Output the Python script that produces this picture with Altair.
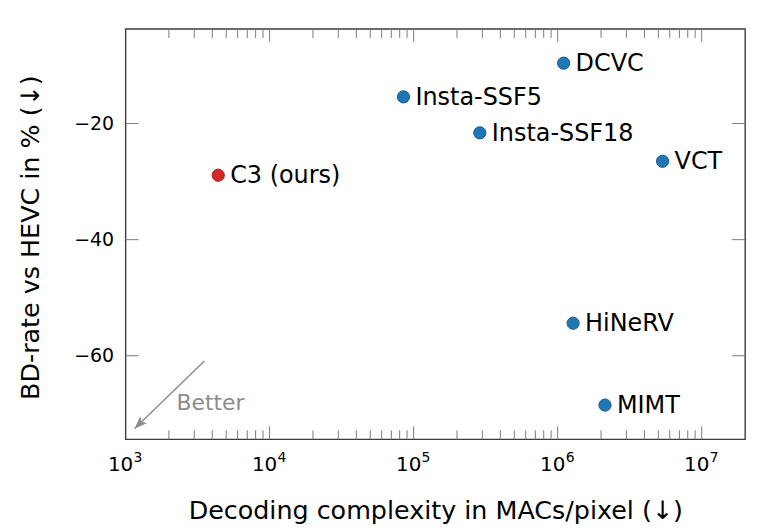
import altair as alt
import pandas as pd

# ---- data ----
methods = ["C3 (ours)", "Insta-SSF5", "Insta-SSF18", "DCVC", "VCT", "HiNeRV", "MIMT"]
macs = [4400, 85000, 288000, 1.1e6, 5.35e6, 1.28e6, 2.13e6]
bd_rate = [-28.9, -15.4, -21.6, -9.6, -26.5, -54.4, -68.5]
is_ours = [True, False, False, False, False, False, False]

x_major = [1e4, 1e5, 1e6, 1e7]
x_labels_at = [1e3, 1e4, 1e5, 1e6, 1e7]
x_label_exp = ["3", "4", "5", "6", "7"]
x_minor = [k * 10 ** e for e in range(3, 7) for k in range(2, 10)]
y_major = [-20, -40, -60]

arrow_x = [3525, 1154]
arrow_y = [-60.9, -72.6]
better_x = [2254]
better_y = [-68.2]

W, H = 622, 412
FONT = "DejaVu Sans"
XDOM = [1e3, 2e7]
YDOM = [-74.4, -3.7]

df = pd.DataFrame({"method": methods, "macs": macs, "bd": bd_rate, "ours": is_ours})

xs = alt.Scale(type="log", domain=XDOM, nice=False)
ys = alt.Scale(domain=YDOM, nice=False, zero=False)

x_axis = alt.Axis(
    values=x_labels_at, grid=False, ticks=False, tickSize=0, domain=False, labels=False,
    title="Decoding complexity in MACs/pixel (↓)", titleFont=FONT, titleFontSize=25.5,
    titleFontWeight="normal", titleColor="#000", titleBaseline="alphabetic", titleY=80,
)
y_axis = alt.Axis(
    values=y_major, grid=False, ticks=False, tickSize=0, domain=False,
    labelExpr="'−' + abs(datum.value)",
    labelFont=FONT, labelFontSize=19, labelColor="#000", labelPadding=12,
    title="BD-rate vs HEVC in % (↓)", titleFont=FONT, titleFontSize=25.5,
    titleFontWeight="normal", titleColor="#000", titleBaseline="alphabetic",
    titleAngle=-90, titleX=-87, titleY=209,
)

base = alt.Chart(df)

points = base.mark_circle(size=150, opacity=1, strokeWidth=1).encode(
    x=alt.X("macs:Q", scale=xs, axis=x_axis),
    y=alt.Y("bd:Q", scale=ys, axis=y_axis),
    color=alt.Color("ours:N", scale=alt.Scale(domain=[True, False], range=["#d62728", "#1f77b4"]), legend=None),
    stroke=alt.Stroke("ours:N", scale=alt.Scale(domain=[True, False], range=["#a81c1c", "#175a8a"]), legend=None),
)

labels = base.mark_text(align="left", baseline="middle", dx=12, dy=1, font=FONT, fontSize=24, color="#000").encode(
    x=alt.X("macs:Q", scale=xs), y=alt.Y("bd:Q", scale=ys), text="method:N"
)

# x tick labels: "10" with a raised exponent
xlab_df = pd.DataFrame({"v": x_labels_at, "base": ["10"] * len(x_labels_at), "exp": x_label_exp})
xlab_base = alt.Chart(xlab_df).mark_text(align="center", baseline="alphabetic", dx=-5, font=FONT,
                                         fontSize=20, color="#000").encode(
    x=alt.X("v:Q", scale=xs), y=alt.value(H + 31.5), text="base:N")
xlab_exp = alt.Chart(xlab_df).mark_text(align="left", baseline="alphabetic", dx=8, font=FONT,
                                        fontSize=14, color="#000").encode(
    x=alt.X("v:Q", scale=xs), y=alt.value(H + 23), text="exp:N")

TICK_C = "#7a7a7a"
xmaj_df = pd.DataFrame({"v": x_major})
xmin_df = pd.DataFrame({"v": x_minor})
ymaj_df = pd.DataFrame({"v": y_major})

def xticks(d, ln):
    c = alt.Chart(d)
    b = c.mark_rule(color=TICK_C, strokeWidth=1).encode(
        x=alt.X("v:Q", scale=xs), y=alt.value(H), y2=alt.value(H - ln))
    t = c.mark_rule(color=TICK_C, strokeWidth=1).encode(
        x=alt.X("v:Q", scale=xs), y=alt.value(0), y2=alt.value(ln))
    return [b, t]

def yticks(d, ln):
    c = alt.Chart(d)
    l = c.mark_rule(color=TICK_C, strokeWidth=1).encode(
        y=alt.Y("v:Q", scale=ys), x=alt.value(0), x2=alt.value(ln))
    r = c.mark_rule(color=TICK_C, strokeWidth=1).encode(
        y=alt.Y("v:Q", scale=ys), x=alt.value(W), x2=alt.value(W - ln))
    return [l, r]

tick_layers = xticks(xmaj_df, 13) + xticks(xmin_df, 9) + yticks(ymaj_df, 13)

arrow_df = pd.DataFrame({"x": arrow_x, "y": arrow_y, "o": [0, 1]})
arrow_line = alt.Chart(arrow_df).mark_line(color="#8c8c8c", strokeWidth=1.4).encode(
    x=alt.X("x:Q", scale=xs), y=alt.Y("y:Q", scale=ys), order="o:Q")
arrow_head = alt.Chart(arrow_df.iloc[[1]]).mark_point(
    shape="M0,0L0.6,1.6L0,1.25L-0.6,1.6Z", filled=True, size=270, angle=225,
    color="#8c8c8c", opacity=1).encode(
    x=alt.X("x:Q", scale=xs), y=alt.Y("y:Q", scale=ys))

better_df = pd.DataFrame({"x": better_x, "y": better_y, "t": ["Better"]})
better = alt.Chart(better_df).mark_text(align="left", baseline="middle", font=FONT, fontSize=22, color="#8c8c8c").encode(
    x=alt.X("x:Q", scale=xs), y=alt.Y("y:Q", scale=ys), text="t:N")

chart = alt.layer(*tick_layers, arrow_line, arrow_head, better, xlab_base, xlab_exp, points, labels).properties(
    width=W, height=H,
    autosize=alt.AutoSizeParams(type="none"),
    padding={"left": 118, "top": 20, "right": 20, "bottom": 85},
).configure_view(stroke="#3c3c3c", strokeWidth=1.4).resolve_scale(color="independent")

chart.save("out.html", embed_options={"renderer": "svg", "actions": False})
